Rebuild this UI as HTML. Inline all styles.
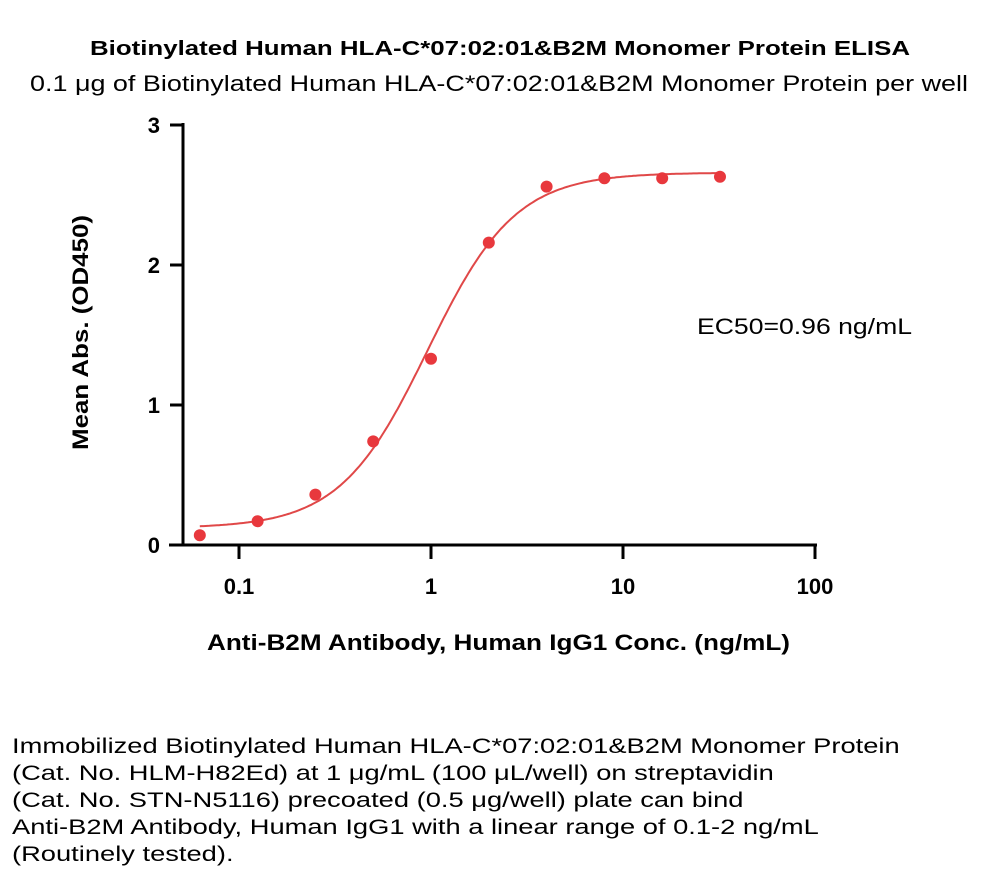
<!DOCTYPE html>
<html><head><meta charset="utf-8"><style>
body{margin:0;background:#fff;width:1000px;height:889px;overflow:hidden;font-family:"Liberation Sans",sans-serif}
svg{position:absolute;left:0;top:0}
.note{position:absolute;left:12px;top:733px;font-size:21px;line-height:27px;color:#000;white-space:nowrap;transform-origin:0 0;transform:scaleX(1.3)}
</style></head><body>
<svg id="chart" width="1000" height="889"></svg>
<div class="note">Immobilized Biotinylated Human HLA-C*07:02:01&amp;B2M Monomer Protein<br>(Cat. No. HLM-H82Ed) at 1 μg/mL (100 μL/well) on streptavidin<br>(Cat. No. STN-N5116) precoated (0.5 μg/well) plate can bind<br>Anti-B2M Antibody, Human IgG1 with a linear range of 0.1-2 ng/mL<br>(Routinely tested).</div>
<script>
const concentrations=[0.0625,0.125,0.25,0.5,1,2,4,8,16,32];
const absorbance=[0.07,0.17,0.36,0.74,1.33,2.16,2.56,2.62,2.62,2.63];
const fitParams=[0.12,2.66,0.96,1.9]; // bottom, top, EC50, hill
const xTicks=[0.1,1,10,100];
const xTickLabels=["0.1","1","10","100"];
const yTicks=[0,1,2,3];
const yTickLabels=["0","1","2","3"];
const NS="http://www.w3.org/2000/svg";
const svg=document.getElementById('chart');
const X=v=>431+192*Math.log10(v);
const Y=v=>545-140*v;
function mk(tag,attrs,parent){const e=document.createElementNS(NS,tag);for(const k in attrs)e.setAttribute(k,attrs[k]);(parent||svg).appendChild(e);return e;}
function txt(s,attrs,name){const t=mk('text',attrs);t.textContent=s;return t;}
txt("Biotinylated Human HLA-C*07:02:01&B2M Monomer Protein ELISA",{x:90,y:55,'font-size':20,'font-weight':'bold',textLength:820,lengthAdjust:'spacingAndGlyphs'},'chart-title');
txt("0.1 μg of Biotinylated Human HLA-C*07:02:01&B2M Monomer Protein per well",{x:30,y:91,'font-size':22,textLength:938,lengthAdjust:'spacingAndGlyphs'},'chart-subtitle');
let l=mk('line',{x1:183,y1:123,x2:183,y2:546,stroke:'#000','stroke-width':3});

l=mk('line',{x1:169,y1:545,x2:817,y2:545,stroke:'#000','stroke-width':3});

yTicks.forEach((v,i)=>{
 const t=mk('line',{x1:170,y1:Y(v),x2:183,y2:Y(v),stroke:'#000','stroke-width':3});
 
 txt(yTickLabels[i],{x:160,y:Y(v)+8,'text-anchor':'end','font-size':22,'font-weight':'bold'},'y-tick-label');
});
xTicks.forEach((v,i)=>{
 const t=mk('line',{x1:X(v),y1:545,x2:X(v),y2:559,stroke:'#000','stroke-width':3});
 
 txt(xTickLabels[i],{x:X(v),y:594,'text-anchor':'middle','font-size':22,'font-weight':'bold'},'x-tick-label');
});
txt("Anti-B2M Antibody, Human IgG1 Conc. (ng/mL)",{x:207,y:650,'font-size':22,'font-weight':'bold',textLength:583,lengthAdjust:'spacingAndGlyphs'},'x-axis-title');
txt("Mean Abs. (OD450)",{x:0,y:0,'font-size':22,'font-weight':'bold',textLength:235,lengthAdjust:'spacingAndGlyphs',transform:'translate(88,450) rotate(-90)'},'y-axis-title');
txt("EC50=0.96 ng/mL",{x:697,y:334,'font-size':22,textLength:215,lengthAdjust:'spacingAndGlyphs'},'ec50-label');
const [b,tp,ec,h]=fitParams;
let d='';
for(let lx=Math.log10(0.0625);lx<=Math.log10(32)+1e-9;lx+=0.01){const c=Math.pow(10,lx);const y=b+(tp-b)/(1+Math.pow(ec/c,h));d+=(d?'L':'M')+X(c).toFixed(1)+','+Y(y).toFixed(1);}
const p=mk('path',{d:d,fill:'none',stroke:'#e04848','stroke-width':2});

concentrations.forEach((c,i)=>{
 const e=mk('circle',{cx:X(c),cy:Y(absorbance[i]),r:6,fill:'#e8383d'});
 
 
});
</script>
</body></html>
